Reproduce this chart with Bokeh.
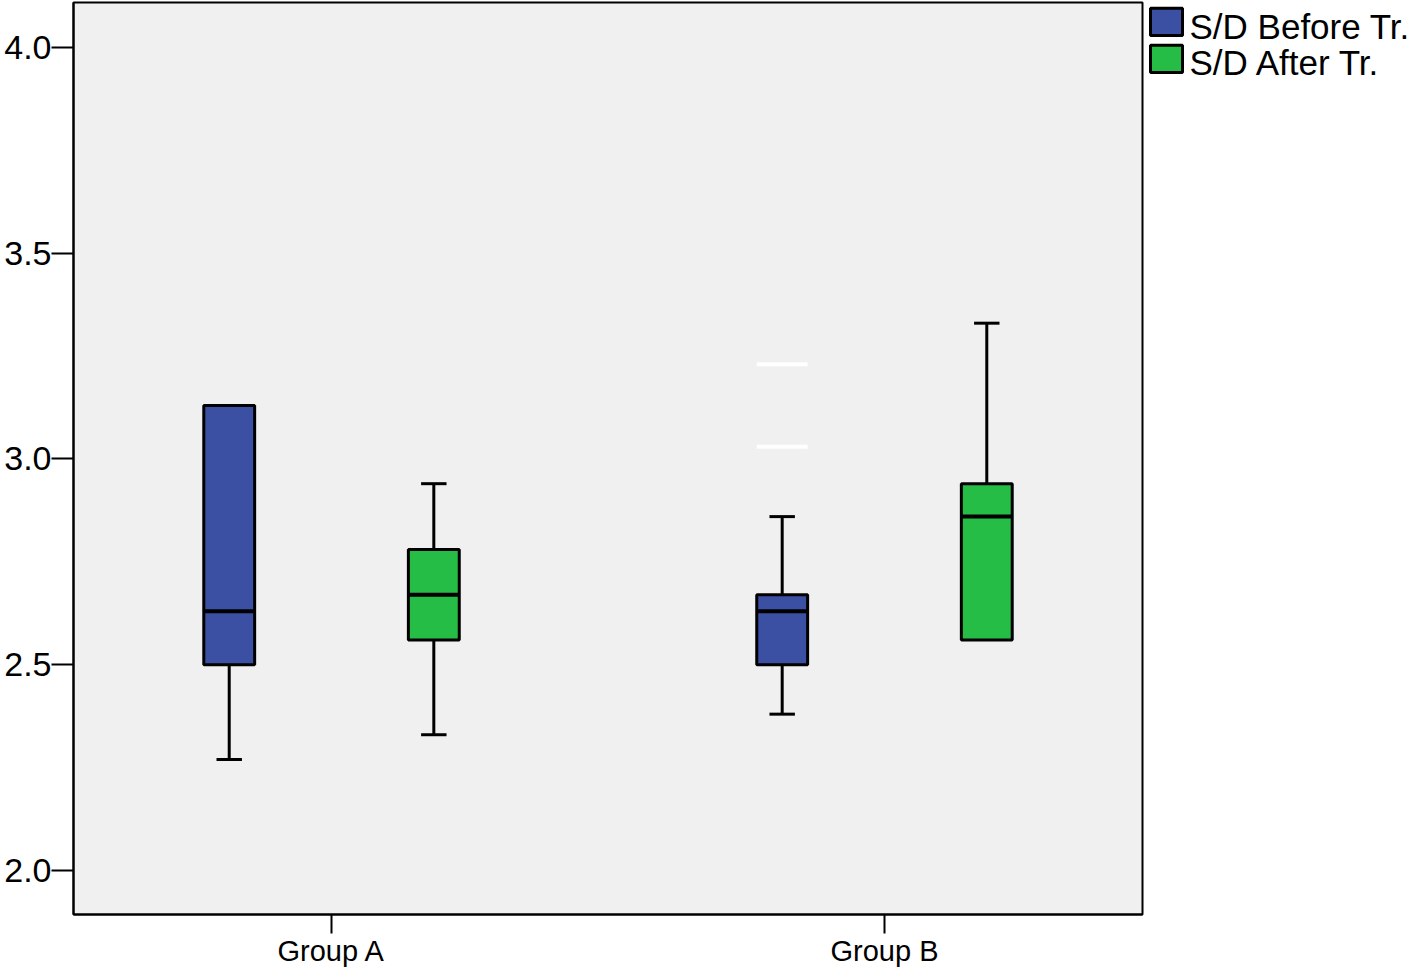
from bokeh.plotting import figure
from bokeh.layouts import row
from bokeh.models import FixedTicker, Range1d, ColumnDataSource
from bokeh.core.properties import value
from bokeh.embed import file_html
from bokeh.resources import INLINE

groups = ["Group A", "Group B"]
series = ["S/D Before Tr.", "S/D After Tr."]
colors = ["#3b4fa3", "#26bd46"]

lower_vals = [[2.27, 2.38], [2.33, 2.56]]
q1_vals = [[2.50, 2.50], [2.56, 2.56]]
median_vals = [[2.63, 2.63], [2.67, 2.86]]
q3_vals = [[3.13, 2.67], [2.78, 2.94]]
upper_vals = [[3.13, 2.86], [2.94, 3.33]]

outlier_group = [1, 1]   # index into groups
outlier_series = [0, 0]  # index into series
outlier_values = [3.23, 3.03]

y_ticks = [2.0, 2.5, 3.0, 3.5, 4.0]

FONT = "Liberation Sans"
offsets = [-0.185, 0.185]
box_w = 0.092
cap_hw = 0.023

fig = figure(width=1144, height=969, output_backend="svg", toolbar_location=None,
             x_range=Range1d(0.5334, 2.4666), y_range=Range1d(1.8932, 4.1092),
             min_border_left=73, min_border_right=2, min_border_top=2, min_border_bottom=54)
fig.background_fill_color = "#f0f0f0"
fig.border_fill_color = "white"
fig.outline_line_color = "black"
fig.outline_line_width = 2
fig.xgrid.visible = False
fig.ygrid.visible = False

for si, s in enumerate(series):
    xs = [gi + 1 + offsets[si] for gi in range(len(groups))]
    src = ColumnDataSource(dict(x=xs, q1=q1_vals[si], q3=q3_vals[si]))
    for gi in range(len(groups)):
        x = xs[gi]
        if upper_vals[si][gi] > q3_vals[si][gi]:
            fig.segment(x0=[x], y0=[q3_vals[si][gi]], x1=[x], y1=[upper_vals[si][gi]],
                        line_color="black", line_width=3)
            fig.segment(x0=[x - cap_hw], y0=[upper_vals[si][gi]], x1=[x + cap_hw], y1=[upper_vals[si][gi]],
                        line_color="black", line_width=3)
        if lower_vals[si][gi] < q1_vals[si][gi]:
            fig.segment(x0=[x], y0=[lower_vals[si][gi]], x1=[x], y1=[q1_vals[si][gi]],
                        line_color="black", line_width=3)
            fig.segment(x0=[x - cap_hw], y0=[lower_vals[si][gi]], x1=[x + cap_hw], y1=[lower_vals[si][gi]],
                        line_color="black", line_width=3)
    fig.vbar(x="x", width=box_w, bottom="q1", top="q3", source=src,
             fill_color=colors[si], line_color="black", line_width=3)
    fig.segment(x0=[x - box_w / 2 for x in xs], y0=median_vals[si],
                x1=[x + box_w / 2 for x in xs], y1=median_vals[si],
                line_color="black", line_width=4)

# outliers (drawn as white dashes)
ox = [outlier_group[i] + 1 + offsets[outlier_series[i]] for i in range(len(outlier_values))]
fig.segment(x0=[x - box_w / 2 for x in ox], y0=outlier_values,
            x1=[x + box_w / 2 for x in ox], y1=outlier_values,
            line_color="white", line_width=4)

# axes
fig.yaxis.ticker = FixedTicker(ticks=y_ticks)
fig.yaxis.major_label_overrides = {t: f"{t:.1f}" for t in y_ticks}
fig.yaxis.minor_tick_line_color = None
fig.yaxis.major_tick_out = 22
fig.yaxis.major_tick_in = 0
fig.yaxis.major_tick_line_width = 2
fig.yaxis.axis_line_width = 2
fig.yaxis.major_label_standoff = 0
fig.yaxis.major_label_text_font = FONT
fig.yaxis.major_label_text_font_size = "34px"
fig.yaxis.major_label_text_color = "black"

fig.xaxis.ticker = FixedTicker(ticks=[1, 2])
fig.xaxis.major_label_overrides = {i + 1: g for i, g in enumerate(groups)}
fig.xaxis.minor_tick_line_color = None
fig.xaxis.major_tick_out = 19
fig.xaxis.major_tick_in = 0
fig.xaxis.major_tick_line_width = 2
fig.xaxis.axis_line_width = 2
fig.xaxis.major_label_standoff = 1
fig.xaxis.major_label_text_font = FONT
fig.xaxis.major_label_text_font_size = "29px"
fig.xaxis.major_label_text_color = "black"

# legend panel (pixel coordinates, y downward)
leg = figure(width=274, height=969, output_backend="svg", toolbar_location=None,
             x_range=Range1d(0, 274), y_range=Range1d(969, 0),
             min_border_left=0, min_border_right=0, min_border_top=0, min_border_bottom=0)
leg.axis.visible = False
leg.xgrid.visible = False
leg.ygrid.visible = False
leg.outline_line_color = None
leg.background_fill_color = "white"
leg.border_fill_color = "white"
sw_x = [22, 22]
sw_y = [20.5, 60]
leg.rect(x=sw_x, y=sw_y, width=32, height=29, fill_color=colors, line_color="black", line_width=3)
leg.text(x=[45, 45], y=[26, 64], text=series, text_font=value(FONT), text_font_size="35px",
         text_color="black", text_baseline="alphabetic", text_align="left")

p = row(fig, leg)
open("out.html", "w").write(file_html(p, INLINE))
